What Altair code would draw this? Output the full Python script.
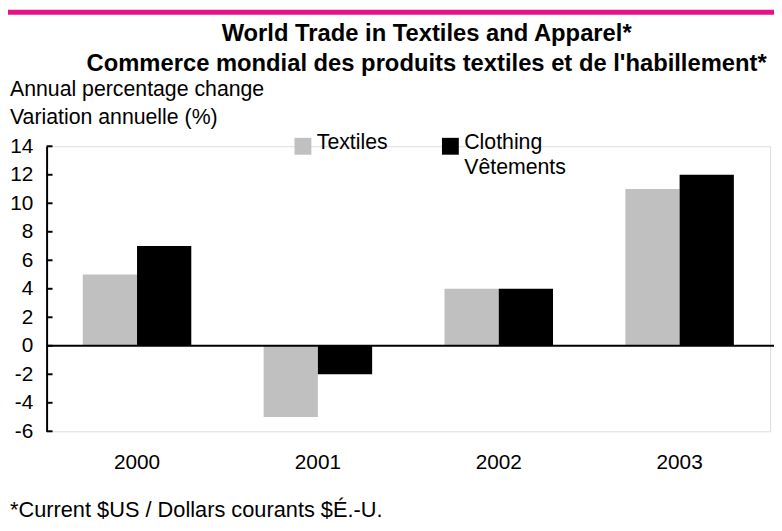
import altair as alt
import pandas as pd

# ---- data ----
years = ["2000", "2001", "2002", "2003"]
textiles = [5, -5, 4, 11]
clothing = [7, -2, 4, 12]
series_names = ["Textiles", "Clothing"]
series_labels = ["Textiles", "Clothing\nVêtements"]
y_ticks = [-6, -4, -2, 0, 2, 4, 6, 8, 10, 12, 14]
title_lines = ["World Trade in Textiles and Apparel*",
               "Commerce mondial des produits textiles et de l'habillement*"]
axis_title_lines = ["Annual percentage change", "Variation annuelle (%)"]
footnote = "*Current $US / Dollars courants $É.-U."

colors = ["#C0C0C0", "#000000"]
FONT = "Liberation Sans"
FS = 21.5

rows = []
for i, y in enumerate(years):
    rows.append({"year": y, "series": series_names[0], "value": textiles[i]})
    rows.append({"year": y, "series": series_names[1], "value": clothing[i]})
df = pd.DataFrame(rows)

W, H = 731, 288

yscale = alt.Scale(domain=[-6, 14], nice=False, zero=False)
yaxis = alt.Axis(values=y_ticks, grid=False, ticks=False,
                 domainColor="black", domainWidth=2,
                 labelOverlap=False, labelFlush=False,
                 labelExpr="datum.value + ''",
                 labelFont=FONT, labelFontSize=21, labelColor="black",
                 labelPadding=14)

bars = alt.Chart(df).mark_bar().encode(
    x=alt.X("year:N", title=None,
            scale=alt.Scale(paddingInner=0.4, paddingOuter=0.2),
            axis=alt.Axis(domain=False, ticks=False, labelAngle=0,
                          labelFont=FONT, labelFontSize=21, labelColor="black",
                          labelPadding=21)),
    xOffset=alt.XOffset("series:N", sort=series_names),
    y=alt.Y("value:Q", title=None, scale=yscale, axis=yaxis),
    color=alt.Color("series:N", sort=series_names,
                    scale=alt.Scale(domain=series_names, range=colors),
                    legend=None),
)

zero = alt.Chart(pd.DataFrame({"z": [0]})).mark_rule(color="black", strokeWidth=2).encode(
    y=alt.Y("z:Q", title=None, scale=yscale, axis=yaxis), x=alt.value(0), x2=alt.value(W + 4)
)

ticks = alt.Chart(pd.DataFrame({"t": y_ticks})).mark_rule(color="black", strokeWidth=2).encode(
    y=alt.Y("t:Q", title=None, scale=yscale, axis=yaxis), x=alt.value(0), x2=alt.value(6)
)

pink = alt.Chart(pd.DataFrame({"a": [0]})).mark_rule(color="#E5128A", strokeWidth=5).encode(
    x=alt.value(-39), x2=alt.value(W + 4), y=alt.value(-135.5)
)


def txt(text, x, y, size=FS, weight="normal", align="left", baseline="middle"):
    return alt.Chart(pd.DataFrame({"t": [text]})).mark_text(
        font=FONT, fontSize=size, fontWeight=weight, align=align,
        baseline=baseline, color="black"
    ).encode(text="t:N", x=alt.value(x), y=alt.value(y))


t1 = txt(title_lines[0], 384, -106, size=24, weight="bold", align="center", baseline="alphabetic")
t2 = txt(title_lines[1], 384, -76, size=24, weight="bold", align="center", baseline="alphabetic")
a1 = txt(axis_title_lines[0], -37, -57)
a2 = txt(axis_title_lines[1], -37, -29)
fn = txt(footnote, -37, 375, size=22, baseline="alphabetic")

# legend
leg_sq1 = alt.Chart(pd.DataFrame({"s": [series_names[0]]})).mark_square(size=290, opacity=1).encode(
    x=alt.value(259), y=alt.value(0),
    color=alt.Color("s:N", scale=alt.Scale(domain=series_names, range=colors), legend=None))
leg_sq2 = alt.Chart(pd.DataFrame({"s": [series_names[1]]})).mark_square(size=290, opacity=1).encode(
    x=alt.value(408), y=alt.value(0),
    color=alt.Color("s:N", scale=alt.Scale(domain=series_names, range=colors), legend=None))
leg_t1 = txt(series_labels[0], 273, -3)
lab2 = series_labels[1].split("\n")
leg_t2a = txt(lab2[0], 422, -3)
leg_t2b = txt(lab2[1], 422, 22)

chart = alt.layer(
    bars, zero, ticks, pink, t1, t2, a1, a2, fn, leg_sq1, leg_sq2, leg_t1, leg_t2a, leg_t2b
).properties(
    width=W, height=H,
    autosize=alt.AutoSizeParams(type="none"),
    padding={"left": 39, "top": 137, "right": 4, "bottom": 94},
).configure_view(stroke=None).configure(background="white")

chart.save("out.html", embed_options={"renderer": "svg", "actions": False})
